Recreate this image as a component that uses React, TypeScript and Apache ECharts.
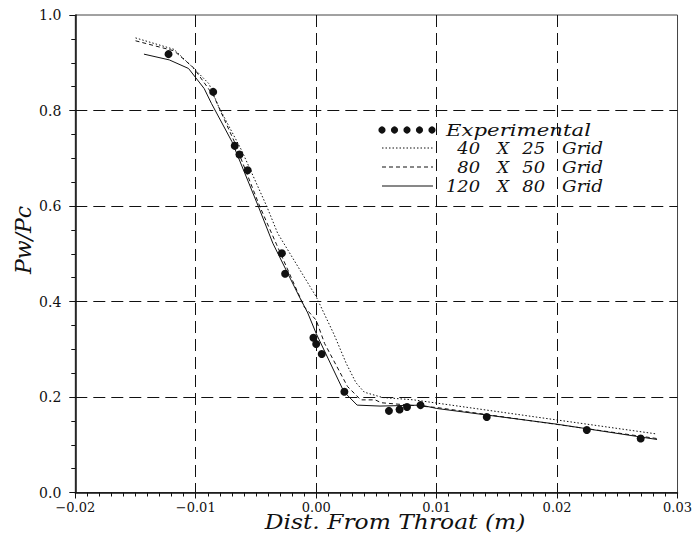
import React, { useEffect, useRef } from "react";
import * as echarts from "echarts";

const expX = [-0.01226, -0.00855, -0.00676, -0.00637, -0.00569, -0.00285, -0.00258, -0.00023, 0.0, 0.00046, 0.00234, 0.00604, 0.00692, 0.00754, 0.00866, 0.01416, 0.02247, 0.02694];
const expY = [0.918, 0.839, 0.726, 0.708, 0.675, 0.501, 0.458, 0.324, 0.311, 0.29, 0.211, 0.171, 0.174, 0.179, 0.183, 0.158, 0.131, 0.113];

const g40X = [-0.015, -0.0118, -0.01, -0.0089, -0.0081, -0.0062, -0.0041, -0.0032, 0.0, 0.0015, 0.0025, 0.0033, 0.004, 0.0055, 0.0081, 0.0283];
const g40Y = [0.952, 0.928, 0.884, 0.856, 0.808, 0.717, 0.599, 0.543, 0.41, 0.33, 0.27, 0.23, 0.21, 0.199, 0.194, 0.1225];

const g80X = [-0.015, -0.0118, -0.0102, -0.0085, -0.0068, -0.0047, -0.0033, -0.001, 0.0, 0.0007, 0.0026, 0.0037, 0.0049, 0.0054, 0.01, 0.0283];
const g80Y = [0.946, 0.925, 0.89, 0.83, 0.735, 0.6, 0.52, 0.389, 0.361, 0.312, 0.222, 0.194, 0.194, 0.188, 0.178, 0.113];

const g120X = [-0.0143, -0.0122, -0.0106, -0.0093, -0.0087, -0.007, -0.0048, -0.0036, -0.0014, -0.0007, 0.0, 0.0023, 0.0034, 0.0053, 0.0087, 0.01, 0.02, 0.0283];
const g120Y = [0.918, 0.906, 0.888, 0.846, 0.815, 0.735, 0.599, 0.522, 0.41, 0.376, 0.333, 0.211, 0.183, 0.181, 0.183, 0.176, 0.143, 0.111];

const xTicks = [-0.02, -0.01, 0.0, 0.01, 0.02, 0.03];
const yTicks = [0.0, 0.2, 0.4, 0.6, 0.8, 1.0];

const legendRows = [
  { n1: "40", n2: "25", dash: [1.5, 2] as number[] | "solid" },
  { n1: "80", n2: "50", dash: [4, 3] as number[] | "solid" },
  { n1: "120", n2: "80", dash: "solid" as number[] | "solid" },
];

const zip = (a: number[], b: number[]) => a.map((v, i) => [v, b[i]]);

export default function App() {
  const ref = useRef<HTMLDivElement>(null);
  useEffect(() => {
    if (!ref.current) return;
    const chart = echarts.init(ref.current, undefined, { renderer: "svg" });
    const serif = "DejaVu Serif";
    const ink = "#111";
    const legendFont = `italic 17px "${serif}"`;
    const graphics: any[] = [];
    for (let i = 0; i < 5; i++) {
      graphics.push({ type: "circle", shape: { cx: 382 + i * 12.5, cy: 130, r: 3.6 }, style: { fill: ink } });
    }
    graphics.push({ type: "text", x: 446, y: 130, scaleX: 1.25, style: { text: "Experimental", font: legendFont, fill: ink, textAlign: "left", textVerticalAlign: "middle" } });
    legendRows.forEach((r, i) => {
      const y = 148 + i * 19;
      graphics.push({ type: "line", shape: { x1: 382, y1: y, x2: 433, y2: y }, style: { stroke: ink, lineWidth: 1, lineDash: r.dash === "solid" ? null : r.dash } });
      graphics.push({ type: "text", x: 480, y, scaleX: 1.05, style: { text: r.n1, font: legendFont, fill: ink, textAlign: "right", textVerticalAlign: "middle" } });
      graphics.push({ type: "text", x: 503, y, style: { text: "X", font: legendFont, fill: ink, textAlign: "center", textVerticalAlign: "middle" } });
      graphics.push({ type: "text", x: 545, y, scaleX: 1.05, style: { text: r.n2, font: legendFont, fill: ink, textAlign: "right", textVerticalAlign: "middle" } });
      graphics.push({ type: "text", x: 562, y, scaleX: 1.08, style: { text: "Grid", font: legendFont, fill: ink, textAlign: "left", textVerticalAlign: "middle" } });
    });
    graphics.push({ type: "text", x: 395, y: 522, scaleX: 1.17, style: { text: "Dist. From Throat (m)", font: `italic 20px "${serif}"`, fill: ink, textAlign: "center", textVerticalAlign: "middle" } });
    graphics.push({ type: "text", x: 23, y: 240, rotation: Math.PI / 2, style: { text: "Pw/Pc", font: `italic 22px "${serif}"`, fill: ink, textAlign: "center", textVerticalAlign: "middle" } });

    const lineSeries = (name: string, xs: number[], ys: number[], type: any) => ({
      name,
      type: "line",
      data: zip(xs, ys),
      symbol: "none",
      lineStyle: { color: ink, width: 1, type },
      z: 3,
    });

    chart.setOption({
      animation: false,
      backgroundColor: "#fff",
      grid: { left: 75.3, right: 12.7, top: 15, bottom: 42.5, show: true, borderColor: "#444", borderWidth: 1 },
      xAxis: {
        type: "value",
        min: xTicks[0],
        max: xTicks[xTicks.length - 1],
        interval: 0.01,
        axisLine: { show: true, onZero: false, lineStyle: { color: ink, width: 1.5 } },
        axisTick: { show: true, length: 6, lineStyle: { color: ink } },
        minorTick: { show: true, splitNumber: 10, length: 4, lineStyle: { color: ink } },
        axisLabel: {
          color: ink,
          fontFamily: serif,
          fontSize: 13,
          margin: 8,
          formatter: (v: number) => (v < -1e-9 ? "\u2212" : "") + Math.abs(v).toFixed(2),
        },
        splitLine: { show: true, showMinLine: false, showMaxLine: false, lineStyle: { color: ink, width: 1, type: [12, 6] } },
      },
      yAxis: {
        type: "value",
        min: yTicks[0],
        max: yTicks[yTicks.length - 1],
        interval: 0.2,
        axisLine: { show: true, onZero: false, lineStyle: { color: ink, width: 1.5 } },
        axisTick: { show: true, length: 6, lineStyle: { color: ink } },
        minorTick: { show: true, splitNumber: 4, length: 4, lineStyle: { color: ink } },
        axisLabel: { color: ink, fontFamily: serif, fontSize: 14, margin: 14, formatter: (v: number) => v.toFixed(1) },
        splitLine: { show: true, showMinLine: false, showMaxLine: false, lineStyle: { color: ink, width: 1, type: [12, 6] } },
      },
      series: [
        lineSeries("40 X 25 Grid", g40X, g40Y, [1.5, 2]),
        lineSeries("80 X 50 Grid", g80X, g80Y, [4, 3]),
        lineSeries("120 X 80 Grid", g120X, g120Y, "solid"),
        { name: "Experimental", type: "scatter", data: zip(expX, expY), symbol: "circle", symbolSize: 8, itemStyle: { color: ink, opacity: 1 }, z: 4 },
      ],
      graphic: graphics,
    });
    return () => chart.dispose();
  }, []);
  return <div ref={ref} style={{ position: "fixed", left: 0, top: 0, width: 695, height: 535 }} />;
}
